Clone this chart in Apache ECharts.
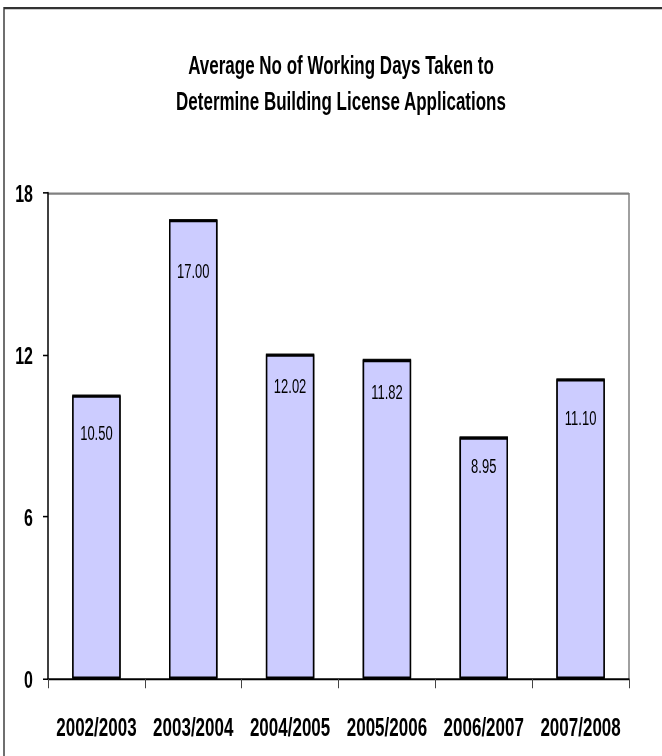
<!DOCTYPE html>
<html>
<head>
<meta charset="utf-8">
<script src="https://cdn.jsdelivr.net/npm/echarts@6/dist/echarts.min.js"></script>
<style>
  html { overflow: hidden; }
  html, body { margin: 0; padding: 0; background: #fff; width: 662px; height: 756px; }
  /* The chart is laid out in a short box and stretched to full height,
     giving the tall, narrow lettering of the printed version. */
  #chart {
    width: 662px;
    height: 488px;
    transform: scaleY(1.549);
    transform-origin: 0 0;
  }
</style>
</head>
<body>
<div id="chart"></div>
<script>
// Financial years and the average working days per building licence decision
const years = ['2002/2003', '2003/2004', '2004/2005', '2005/2006', '2006/2007', '2007/2008'];
const avgDays = [10.50, 17.00, 12.02, 11.82, 8.95, 11.10];
const yTicks = [0, 6, 12, 18];
const titleLines = ['Average No of Working Days Taken to', 'Determine Building License Applications'];

// How far below each bar top its value label sits (px, before stretching)
const labelDrop = [18, 27, 14, 14.5, 12, 19];

const SANS = '"Liberation Sans", Arial, sans-serif';

// Two-line heading, centred over the plot area
const titleText = titleLines.map((line, i) => ({
  type: 'text',
  x: 341,
  y: 42 + i * 23.3,
  style: {
    text: line,
    font: 'bold 17px ' + SANS,
    fill: '#000',
    align: 'center',
    verticalAlign: 'middle'
  },
  silent: true
}));

const chart = echarts.init(document.getElementById('chart'), null, { renderer: 'svg' });
chart.setOption({
  animation: false,
  backgroundColor: '#fff',
  graphic: [{
    type: 'rect',
    shape: { x: 4, y: 5.2, width: 700, height: 600 },
    style: { fill: 'none', stroke: '#333', lineWidth: 1.4 },
    silent: true
  }, {
    // plot area outline on the right
    type: 'line',
    shape: { x1: 629, y1: 124.6, x2: 629, y2: 438.3 },
    style: { stroke: '#808080', lineWidth: 1.5 },
    silent: true
  }].concat(titleText),
  grid: { left: 48, right: 33, top: 124.6, bottom: 49.7 },
  xAxis: {
    type: 'category',
    data: years,
    axisLine: { lineStyle: { color: '#000', width: 1.2 } },
    axisTick: { show: true, length: 6, lineStyle: { color: '#444', width: 1 } },
    axisLabel: {
      interval: 0,
      margin: 22.5,
      fontFamily: SANS,
      fontSize: 17,
      fontWeight: 'bold',
      color: '#000'
    }
  },
  yAxis: {
    type: 'value',
    min: yTicks[0],
    max: yTicks[yTicks.length - 1],
    interval: 6,
    axisLine: { show: true, lineStyle: { color: '#000', width: 1.5 } },
    axisTick: { show: true, length: 5, lineStyle: { color: '#000', width: 1 } },
    splitLine: {
      show: true,
      lineStyle: { color: ['transparent', 'transparent', 'transparent', '#808080'], width: 1.5 }
    },
    axisLabel: {
      margin: 15,
      fontFamily: SANS,
      fontSize: 16,
      fontWeight: 'bold',
      color: '#000'
    }
  },
  series: [{
    type: 'bar',
    barWidth: '50%',
    data: avgDays.map((v, i) => ({
      value: v,
      label: { distance: labelDrop[i] }
    })),
    itemStyle: {
      color: '#CCCCFF',
      borderColor: '#000',
      borderWidth: 1.5,
      // heavier top edge on each bar
      shadowColor: '#000',
      shadowBlur: 0,
      shadowOffsetY: -0.6
    },
    label: {
      show: true,
      position: 'insideTop',
      formatter: p => p.value.toFixed(2),
      fontFamily: SANS,
      fontSize: 13,
      color: '#000'
    }
  }]
});
</script>
</body>
</html>
